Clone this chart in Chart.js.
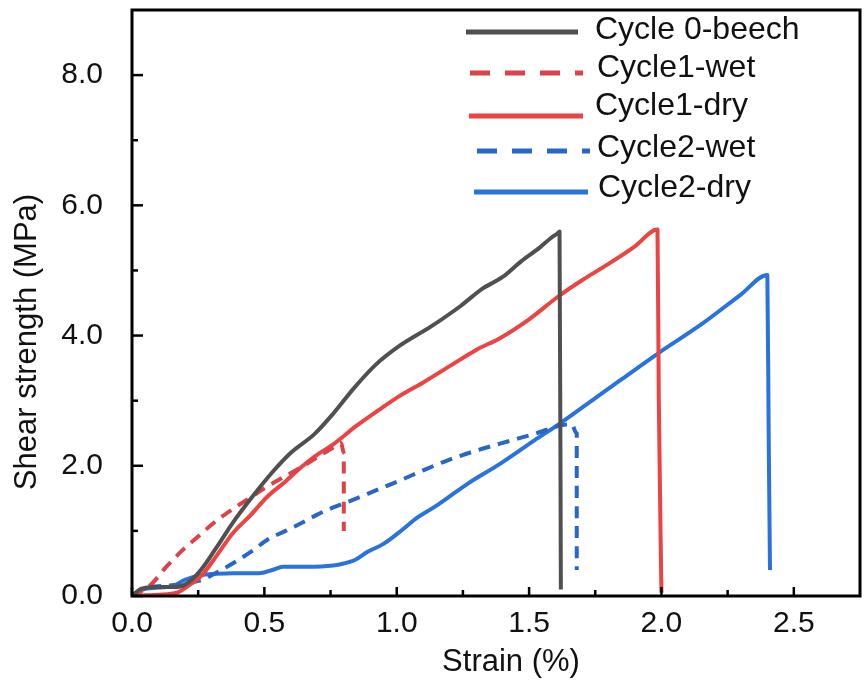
<!DOCTYPE html>
<html>
<head>
<meta charset="utf-8">
<script src="https://cdn.jsdelivr.net/npm/chart.js@4.4.1/dist/chart.umd.min.js"></script>
<style>
html,body{margin:0;padding:0;background:#fff;}
#wrap{width:865px;height:687px;position:relative;}
</style>
</head>
<body>
<div id="wrap"><canvas id="c" width="865" height="687"></canvas></div>
<script>
// ---- data (strain %, shear strength MPa) ----
const seriesNames = ['Cycle 0-beech','Cycle1-wet','Cycle1-dry','Cycle2-wet','Cycle2-dry'];

const beechX = [0,0.03,0.08,0.17,0.21,0.26,0.32,0.38,0.45,0.53,0.6,0.69,0.76,0.84,0.92,1.01,1.13,1.24,1.32,1.4,1.47,1.54,1.58,1.61,1.615,1.62];
const beechY = [0,0.1,0.14,0.14,0.2,0.4,0.75,1.12,1.5,1.9,2.2,2.49,2.8,3.2,3.55,3.84,4.14,4.45,4.71,4.9,5.14,5.35,5.49,5.58,5.6,0.1];

const wet1X = [0,0.07,0.13,0.19,0.26,0.32,0.39,0.45,0.51,0.57,0.64,0.7,0.76,0.79,0.8,0.8];
const wet1Y = [0,0.17,0.45,0.7,0.95,1.16,1.36,1.52,1.68,1.82,1.98,2.13,2.28,2.35,2.2,1.0];

const dry1X = [0,0.05,0.1,0.17,0.21,0.26,0.32,0.38,0.45,0.51,0.58,0.64,0.7,0.76,0.85,0.93,1.01,1.1,1.2,1.3,1.39,1.5,1.61,1.7,1.8,1.9,1.985,1.99,2.0];
const dry1Y = [0,0.01,0.02,0.05,0.15,0.3,0.62,0.96,1.25,1.52,1.76,1.98,2.17,2.33,2.62,2.85,3.07,3.28,3.53,3.78,3.96,4.25,4.6,4.85,5.1,5.37,5.63,3.0,0.05];

const wet2X = [0,0.04,0.1,0.16,0.21,0.26,0.32,0.38,0.45,0.51,0.58,0.64,0.7,0.76,0.83,0.89,0.95,1.01,1.1,1.19,1.29,1.39,1.46,1.52,1.58,1.62,1.66,1.68,1.68];
const wet2Y = [0,0.12,0.15,0.17,0.2,0.24,0.36,0.5,0.68,0.86,1.0,1.12,1.25,1.36,1.47,1.57,1.67,1.77,1.93,2.08,2.22,2.34,2.42,2.49,2.57,2.62,2.64,2.5,0.4];

const dry2X = [0,0.04,0.1,0.16,0.2,0.26,0.32,0.38,0.48,0.53,0.57,0.66,0.76,0.8,0.84,0.89,0.95,1.01,1.08,1.14,1.19,1.27,1.39,1.52,1.62,1.75,1.85,1.985,2.15,2.3,2.4,2.405,2.41];
const dry2Y = [0,0.1,0.13,0.16,0.25,0.32,0.34,0.35,0.35,0.4,0.45,0.45,0.47,0.5,0.55,0.68,0.8,0.98,1.21,1.36,1.5,1.73,2.03,2.39,2.66,3.04,3.33,3.72,4.17,4.63,4.93,2.5,0.4];

const xTickLabels = ['0.0','0.5','1.0','1.5','2.0','2.5'];
const yTickLabels = ['0.0','2.0','4.0','6.0','8.0'];
const xTitle = 'Strain (%)';
const yTitle = 'Shear strength (MPa)';

// ---- styles ----
const FONT = "'Liberation Sans', Arial, sans-serif";
const FS = 30;
const FS_TITLE = 31;
const FS_LEG = 32;
const colors = ['#505050','#dd4149','#ec4343','#2866c8','#2a72dc'];
const dashes = [[],[12,8],[],[12,8],[]];
const legendDash = [[],[20,15],[],[20,15],[]];
const legendLayout = [
  {x1:466,x2:578,ly:32,tx:595,ty:30},
  {x1:470,x2:583,ly:73,tx:597,ty:68},
  {x1:469,x2:583,ly:116,tx:595,ty:106},
  {x1:477,x2:590,ly:151,tx:597,ty:148},
  {x1:474,x2:588,ly:192,tx:598,ty:188}
];

function zip(xs, ys){ return xs.map((x,i)=>({x:x,y:ys[i]})); }
const allX = [beechX,wet1X,dry1X,wet2X,dry2X];
const allY = [beechY,wet1Y,dry1Y,wet2Y,dry2Y];

const datasets = seriesNames.map((n,i)=>({
  label:n,
  data:zip(allX[i],allY[i]),
  borderColor:colors[i],
  backgroundColor:colors[i],
  borderWidth:4,
  borderDash:dashes[i],
  pointRadius:0,
  cubicInterpolationMode:'monotone',
  fill:false,
  borderJoinStyle:'round',
  borderCapStyle:'butt'
}));

const decor = {
  id:'decor',
  afterDraw(chart){
    const ctx = chart.ctx, a = chart.chartArea;
    const xs = chart.scales.x, ys = chart.scales.y;
    ctx.save();
    ctx.strokeStyle = '#000';
    ctx.lineWidth = 3;
    ctx.strokeRect(a.left, a.top, a.right-a.left, a.bottom-a.top);
    ctx.lineWidth = 2.5;
    ys.ticks.forEach(t=>{
      const v = t.value;
      if (v >= ys.max) return;
      const p = ys.getPixelForValue(v);
      const len = (Math.round(v) % 2 === 0) ? 11 : 6;
      ctx.beginPath(); ctx.moveTo(a.left, p); ctx.lineTo(a.left+len, p); ctx.stroke();
    });
    xs.ticks.forEach(t=>{
      const v = t.value;
      if (v >= xs.max - 1e-6) return;
      const p = xs.getPixelForValue(v);
      const major = Math.abs(v*2 - Math.round(v*2)) < 1e-6;
      const len = major ? 9 : 6;
      ctx.beginPath(); ctx.moveTo(p, a.bottom); ctx.lineTo(p, a.bottom-len); ctx.stroke();
    });
    ctx.fillStyle = '#111';
    ctx.textAlign = 'center';
    ctx.textBaseline = 'middle';
    ctx.font = FS_TITLE + 'px ' + FONT;
    ctx.fillText(xTitle, 511, 662);
    ctx.save();
    ctx.translate(27, 342);
    ctx.rotate(-Math.PI/2);
    ctx.fillText(yTitle, 0, 0);
    ctx.restore();
    ctx.textAlign = 'left';
    ctx.font = FS_LEG + 'px ' + FONT;
    chart.data.datasets.forEach((ds,i)=>{
      const L = legendLayout[i];
      ctx.strokeStyle = ds.borderColor;
      ctx.lineWidth = 5;
      ctx.setLineDash(legendDash[i]);
      ctx.beginPath(); ctx.moveTo(L.x1, L.ly); ctx.lineTo(L.x2, L.ly); ctx.stroke();
      ctx.setLineDash([]);
      ctx.fillStyle = '#111';
      ctx.fillText(ds.label, L.tx, L.ty);
    });
    ctx.restore();
  }
};

new Chart(document.getElementById('c'), {
  type:'line',
  data:{datasets:datasets},
  options:{
    responsive:false,
    animation:false,
    devicePixelRatio:1,
    layout:{padding:{top:10,right:5,left:0,bottom:0}},
    plugins:{legend:{display:false},tooltip:{enabled:false}},
    scales:{
      x:{
        type:'linear', min:0, max:2.75,
        grid:{display:false, drawTicks:false},
        border:{display:false},
        ticks:{
          stepSize:0.25, padding:10, color:'#111',
          font:{family:FONT, size:FS},
          maxRotation:0, autoSkip:false,
          callback:(v)=>{
            const k = Math.round(v*2);
            return (Math.abs(v*2-k)<1e-6 && k < xTickLabels.length) ? xTickLabels[k] : '';
          }
        },
        afterFit:(s)=>{ s.height = 91; s.paddingLeft = 0; s.paddingRight = 0; }
      },
      y:{
        type:'linear', min:0, max:9,
        grid:{display:false, drawTicks:false},
        border:{display:false},
        ticks:{
          stepSize:1, padding:29, color:'#111',
          font:{family:FONT, size:FS},
          autoSkip:false,
          callback:(v)=>{
            return (v % 2 === 0 && v/2 < yTickLabels.length) ? yTickLabels[v/2] : '';
          }
        },
        afterFit:(s)=>{ s.width = 132; s.paddingTop = 0; s.paddingBottom = 0; }
      }
    }
  },
  plugins:[decor]
});
</script>
</body>
</html>
